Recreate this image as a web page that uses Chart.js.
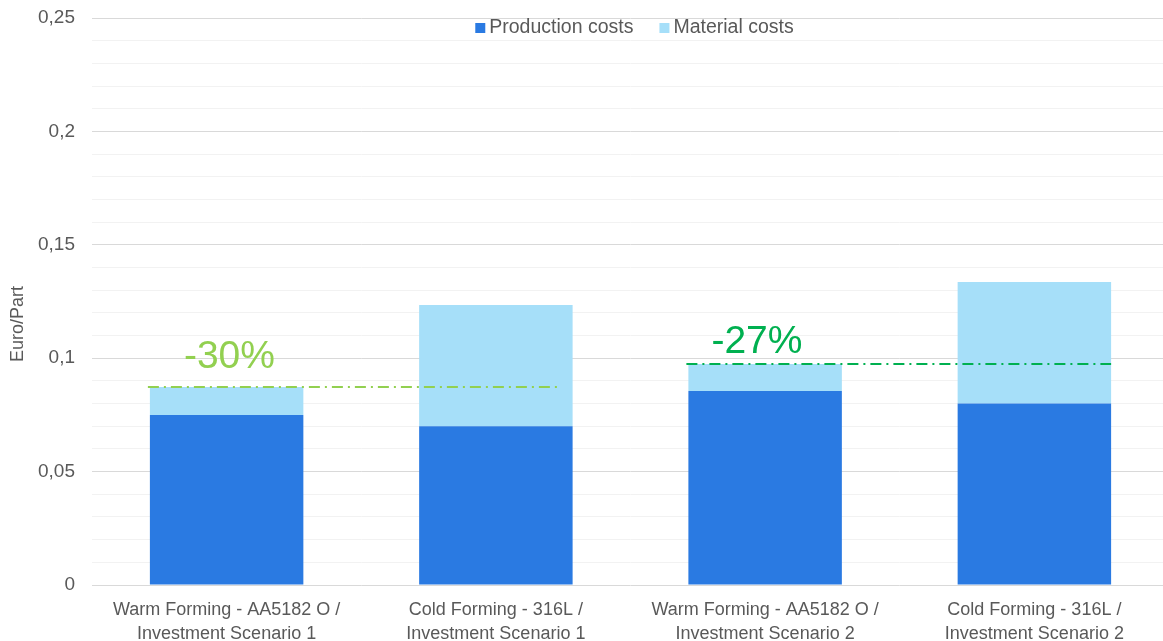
<!DOCTYPE html>
<html>
<head>
<meta charset="utf-8">
<title>Cost per part</title>
<script src="https://cdn.jsdelivr.net/npm/chart.js@4.4.1/dist/chart.umd.min.js"></script>
<style>
  html, body { margin: 0; padding: 0; background: #fff; overflow: hidden; }
  #wrap { width: 1169px; height: 641px; }
</style>
</head>
<body>
<div id="wrap"><canvas id="costChart"></canvas></div>
<script>
// Cost per part in Euro, stacked
const categories = [
    ['Warm Forming - AA5182 O /', 'Investment Scenario 1'],
    ['Cold Forming - 316L /', 'Investment Scenario 1'],
    ['Warm Forming - AA5182 O /', 'Investment Scenario 2'],
    ['Cold Forming - 316L /', 'Investment Scenario 2']
];
const productionCosts = [0.075, 0.070, 0.0855, 0.080];
const materialCosts = [0.0123, 0.0535, 0.0119, 0.0536];
const yTicks = [0, 0.05, 0.1, 0.15, 0.2, 0.25];

// savings comparisons: warm forming total vs cold forming total
const compareFrom = [0, 2];
const compareTo = [1, 3];
const savingsLabels = ['-30%', '-27%'];

const FONT = '"Liberation Sans", Arial, sans-serif';
const TEXT_GREY = '#595959';

function fmtTick(v) {
    return String(+v.toFixed(2)).replace('.', ',');
}

// dash-dot lines at the warm forming total, with the saving printed above
const savingsStyle = [
    { color: '#92d050', endFrac: 0.84, dx: 36, dy: -30 },
    { color: '#00b050', endFrac: 1.0, dx: 25, dy: -22 }
];

const savingsPlugin = {
    id: 'savings',
    afterDatasetsDraw(chart) {
        const ctx = chart.ctx;
        const yScale = chart.scales.y;
        const meta = chart.getDatasetMeta(0);
        compareFrom.forEach(function(from, i) {
            const to = compareTo[i];
            const style = savingsStyle[i];
            const total = productionCosts[from] + materialCosts[from];
            const y = yScale.getPixelForValue(total);
            const startBar = meta.data[from];
            const endBar = meta.data[to];
            const x0 = startBar.x - startBar.width / 2 - 2;
            const x1 = endBar.x + endBar.width / 2 * style.endFrac;

            ctx.save();
            ctx.strokeStyle = style.color;
            ctx.lineWidth = 2;
            ctx.setLineDash([11, 5, 2, 5]);
            ctx.beginPath();
            ctx.moveTo(x0, y);
            ctx.lineTo(x1, y);
            ctx.stroke();

            ctx.setLineDash([]);
            ctx.fillStyle = style.color;
            ctx.font = '39px ' + FONT;
            ctx.textAlign = 'left';
            ctx.textBaseline = 'middle';
            ctx.fillText(savingsLabels[i], x0 + style.dx, y + style.dy);
            ctx.restore();
        });
    }
};

// legend drawn inside the plot, centred at the top
const innerLegend = {
    id: 'innerLegend',
    afterDraw(chart) {
        const ctx = chart.ctx;
        const area = chart.chartArea;
        const box = 10, gap = 4, spacing = 26;
        ctx.save();
        ctx.font = '19.5px ' + FONT;
        ctx.textBaseline = 'middle';
        const items = chart.data.datasets.map(ds => ({
            text: ds.label,
            color: ds.backgroundColor,
            w: box + gap + ctx.measureText(ds.label).width
        }));
        const total = items.reduce((s, it) => s + it.w, 0) + spacing * (items.length - 1);
        let x = (area.left + area.right) / 2 - total / 2 + 4;
        const y = area.top + 10;
        items.forEach(it => {
            ctx.fillStyle = it.color;
            ctx.fillRect(x, y - box / 2, box, box);
            ctx.fillStyle = TEXT_GREY;
            ctx.fillText(it.text, x + box + gap, y);
            x += it.w + spacing;
        });
        ctx.restore();
    }
};

// axis title placed against the left edge
const axisTitle = {
    id: 'axisTitle',
    afterDraw(chart) {
        const ctx = chart.ctx;
        ctx.save();
        ctx.translate(18, 324);
        ctx.rotate(-Math.PI / 2);
        ctx.font = '18px ' + FONT;
        ctx.fillStyle = TEXT_GREY;
        ctx.textAlign = 'center';
        ctx.textBaseline = 'middle';
        ctx.fillText('Euro/Part', 0, 0);
        ctx.restore();
    }
};

const ctx = document.getElementById('costChart');

new Chart(ctx, {
    type: 'bar',
    data: {
        labels: categories,
        datasets: [
            {
                label: 'Production costs',
                data: productionCosts,
                backgroundColor: '#2a7ae2',
                categoryPercentage: 1.0,
                barPercentage: 0.57
            },
            {
                label: 'Material costs',
                data: materialCosts,
                backgroundColor: '#a6dff9',
                categoryPercentage: 1.0,
                barPercentage: 0.57
            }
        ]
    },
    options: {
        responsive: true,
        maintainAspectRatio: false,
        animation: false,
        layout: { padding: { top: 18, right: 0, bottom: 0, left: 0 } },
        scales: {
            x: {
                stacked: true,
                grid: { display: false },
                border: { display: false },
                ticks: {
                    color: TEXT_GREY,
                    font: { family: FONT, size: 18, lineHeight: 1.28 },
                    padding: 6,
                    maxRotation: 0
                },
                afterFit(scale) {
                    scale.height = 56;
                    scale.paddingLeft = 0;
                    scale.paddingRight = 0;
                }
            },
            y: {
                stacked: true,
                min: 0,
                max: 0.25,
                border: { display: false },
                grid: {
                    drawTicks: false,
                    color(c) {
                        const v = Math.round(c.tick.value * 100);
                        return v % 5 === 0 ? '#d9d9d9' : '#f2f2f2';
                    }
                },
                ticks: {
                    stepSize: 0.01,
                    autoSkip: false,
                    color: TEXT_GREY,
                    font: { family: FONT, size: 19 },
                    padding: 17,
                    callback(value) {
                        const hit = yTicks.find(t => Math.abs(t - value) < 1e-6);
                        return hit === undefined ? '' : fmtTick(hit);
                    }
                },
                afterFit(scale) {
                    scale.width = 92;
                    scale.paddingTop = 0;
                    scale.paddingBottom = 0;
                }
            }
        },
        plugins: {
            legend: { display: false },
            tooltip: { enabled: false }
        }
    },
    plugins: [savingsPlugin, innerLegend, axisTitle]
});
</script>
</body>
</html>
